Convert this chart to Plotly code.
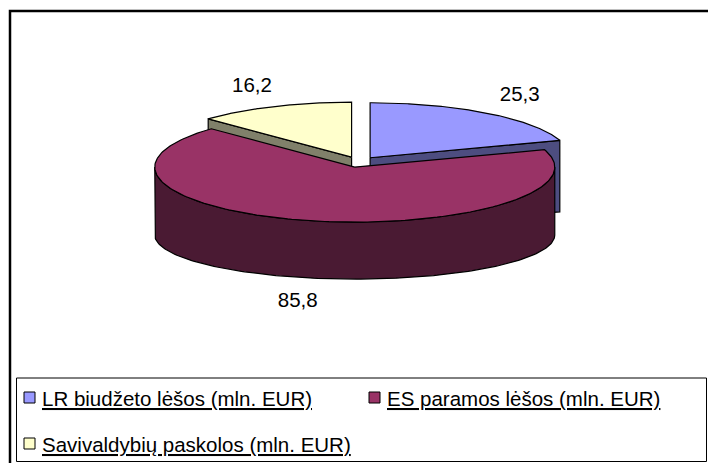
import numpy as np
import plotly.graph_objects as go

# ---- data ----
categories = ["LR biudžeto lėšos (mln. EUR)",
              "ES paramos lėšos (mln. EUR)",
              "Savivaldybių paskolos (mln. EUR)"]
values = [25.3, 85.8, 16.2]
top_colors = ["#9999FF", "#993366", "#FFFFCC"]
side_colors = ["#4D4D80", "#4A1A33", "#80806A"]

# ---- geometry (pixel-unit axes) ----
W, H = 708, 463
CX, CY = 359, 162
RX, RY = 200, 55
RY_B = 44
DEPTH = 68
EXPLODE = 19
LBL_RX, LBL_RY = 275, 82
FONT = "Liberation Sans, Arial, sans-serif"
FS = 20.5

vals = np.array(values, dtype=float)
fracs = vals / vals.sum()
ends = np.cumsum(fracs) * 360.0
starts = ends - fracs * 360.0
mids = (starts + ends) / 2.0


def offset(mid):
    r = np.radians(mid)
    return EXPLODE * np.sin(r), -EXPLODE * np.cos(r) * RY / RX


def top_xy(t, ox, oy):
    r = np.radians(t)
    return CX + ox + RX * np.sin(r), CY + oy - RY * np.cos(r)


def bot_xy(t, ox, oy):
    r = np.radians(t)
    return CX + ox + RX * np.sin(r), CY + oy + DEPTH - RY_B * np.cos(r)


faces = []  # (depth key, xs, ys, color)
tops = []
for i in range(len(values)):
    a0, a1, m = starts[i], ends[i], mids[i]
    ox, oy = offset(m)
    ax, ay = CX + ox, CY + oy
    # outer curved wall (front half only)
    lo, hi = max(a0, 90.0), min(a1, 270.0)
    if lo < hi:
        ts = np.linspace(lo, hi, 160)
        tx, ty = top_xy(ts, ox, oy)
        bx, by = bot_xy(ts[::-1], ox, oy)
        faces.append((ty.mean(), np.r_[tx, bx, tx[0]], np.r_[ty, by, ty[0]], side_colors[i]))
    # radial cut faces
    for a, normal in ((a0, a0 - 90.0), (a1, a1 + 90.0)):
        if np.cos(np.radians(normal)) < -1e-6:
            ex, ey = top_xy(a, ox, oy)
            fx, fy = bot_xy(a, ox, oy)
            xs = [ax, ex, fx, ax, ax]
            ys = [ay, ey, fy, ay + DEPTH, ay]
            faces.append(((ay + ey) / 2.0, xs, ys, side_colors[i]))
    ts = np.linspace(a0, a1, 200)
    tx, ty = top_xy(ts, ox, oy)
    tops.append((np.r_[ax, tx, ax], np.r_[ay, ty, ay], top_colors[i]))

fig = go.Figure()
for key, xs, ys, col in sorted(faces, key=lambda f: f[0]):
    fig.add_trace(go.Scatter(x=list(xs), y=list(ys), mode="lines", fill="toself",
                             fillcolor=col, line=dict(color="black", width=1.2),
                             hoverinfo="skip", showlegend=False))
for xs, ys, col in tops:
    fig.add_trace(go.Scatter(x=list(xs), y=list(ys), mode="lines", fill="toself",
                             fillcolor=col, line=dict(color="black", width=1.2),
                             hoverinfo="skip", showlegend=False))

# value labels
lx, ly = [], []
for m in mids:
    r = np.radians(m)
    lx.append(CX + LBL_RX * np.sin(r))
    y = CY - LBL_RY * np.cos(r)
    if np.cos(r) < 0:
        y += DEPTH - 8
    ly.append(y)
label_text = [f"{v:.1f}".replace(".", ",") for v in values]
fig.add_trace(go.Scatter(x=lx, y=ly, mode="text", text=label_text,
                         textposition="middle center",
                         textfont=dict(family=FONT, size=FS, color="black"),
                         hoverinfo="skip", showlegend=False))

# ---- frame and legend ----
shapes = [
    dict(type="rect", x0=10, y0=11, x1=712, y1=470, line=dict(color="black", width=2.5)),
    dict(type="rect", x0=16.5, y0=378, x1=706.5, y1=461.5, line=dict(color="black", width=1)),
]
annotations = []
leg_pos = [(24, 398), (369, 398), (24, 444)]
for (px, py), name, col in zip(leg_pos, categories, top_colors):
    shapes.append(dict(type="rect", x0=px, y0=py - 6, x1=px + 11, y1=py + 5,
                       fillcolor=col, line=dict(color="black", width=1)))
    annotations.append(dict(x=px + 16, y=py, xref="x", yref="y", text=f"<u>{name}</u>",
                            showarrow=False, xanchor="left", yanchor="middle",
                            font=dict(family=FONT, size=FS, color="black")))

fig.update_layout(
    width=W, height=H,
    margin=dict(l=0, r=0, t=0, b=0),
    paper_bgcolor="white", plot_bgcolor="white",
    xaxis=dict(range=[0, W], visible=False, fixedrange=True),
    yaxis=dict(range=[H, 0], visible=False, fixedrange=True),
    showlegend=False,
    shapes=shapes, annotations=annotations,
    hovermode=False,
)
fig.write_html("out.html")
